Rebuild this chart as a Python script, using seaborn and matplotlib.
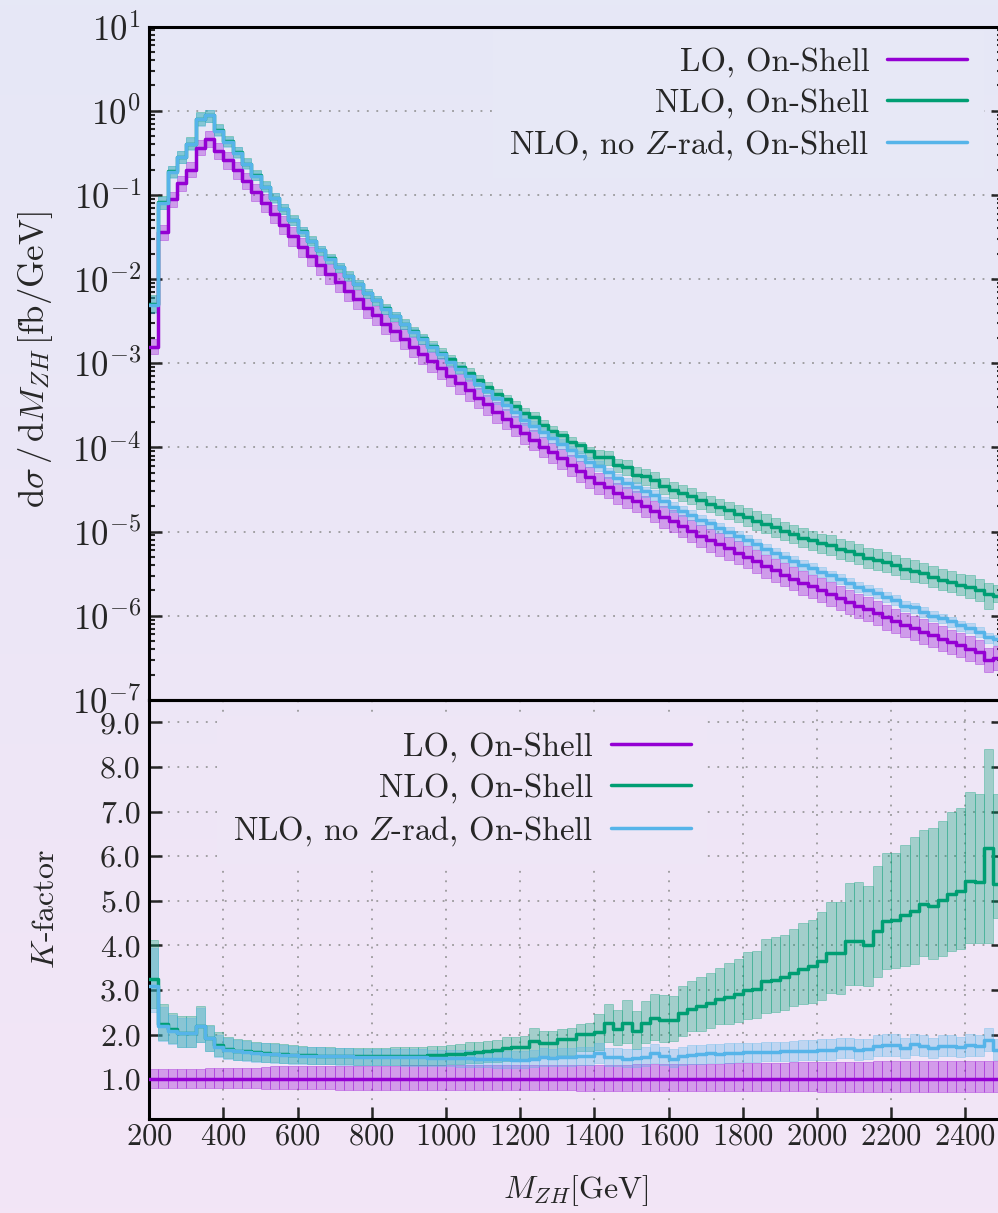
import numpy as np
import matplotlib
matplotlib.use("Agg")
import matplotlib.pyplot as plt
import seaborn as sns
from matplotlib.lines import Line2D
from matplotlib.ticker import (LogFormatterSciNotation, FormatStrFormatter, NullFormatter,
                               FixedLocator)
from matplotlib.colors import to_rgb

# ---------------- data ----------------
mass_edges = np.arange(200, 2501, 25)          # M_ZH bin edges [GeV]

lo_xsec = [
    1.58e-3, 3.63e-2, 8.91e-2, 1.38e-1, 2.00e-1, 3.63e-1, 4.57e-1, 3.35e-1, 2.57e-1, 1.95e-1,
    1.45e-1, 1.07e-1, 7.94e-2, 5.89e-2, 4.37e-2, 3.24e-2, 2.40e-2, 1.86e-2, 1.45e-2, 1.15e-2,
    9.12e-3, 7.24e-3, 5.75e-3, 4.57e-3, 3.72e-3, 2.95e-3, 2.40e-3, 1.95e-3, 1.58e-3, 1.29e-3,
    1.05e-3, 8.71e-4, 7.08e-4, 5.75e-4, 4.79e-4, 3.89e-4, 3.24e-4, 2.63e-4, 2.19e-4, 1.82e-4,
    1.48e-4, 1.23e-4, 1.02e-4, 8.71e-5, 7.41e-5, 6.17e-5, 5.25e-5, 4.47e-5, 3.80e-5, 3.39e-5,
    2.88e-5, 2.57e-5, 2.29e-5, 2.00e-5, 1.74e-5, 1.51e-5, 1.35e-5, 1.17e-5, 1.02e-5, 8.91e-6,
    7.94e-6, 7.08e-6, 6.31e-6, 5.62e-6, 5.01e-6, 4.47e-6, 3.89e-6, 3.47e-6, 3.09e-6, 2.75e-6,
    2.45e-6, 2.24e-6, 2.00e-6, 1.82e-6, 1.62e-6, 1.45e-6, 1.32e-6, 1.20e-6, 1.07e-6, 9.55e-7,
    8.71e-7, 7.76e-7, 7.08e-7, 6.46e-7, 5.89e-7, 5.37e-7, 4.90e-7, 4.47e-7, 4.07e-7, 3.72e-7,
    2.95e-7, 3.16e-7]

# K-factors (ratio to LO central value)
k_nlo = [
    3.24, 2.24, 2.13, 2.03, 2.03, 2.20, 1.92, 1.77, 1.68, 1.64,
    1.62, 1.60, 1.58, 1.57, 1.56, 1.55, 1.55, 1.54, 1.53, 1.53,
    1.52, 1.52, 1.51, 1.51, 1.51, 1.52, 1.52, 1.52, 1.53, 1.53,
    1.54, 1.54, 1.57, 1.57, 1.59, 1.61, 1.63, 1.66, 1.70, 1.71,
    1.72, 1.85, 1.81, 1.81, 1.90, 1.90, 2.02, 2.02, 2.05, 2.26,
    2.13, 2.26, 2.07, 2.26, 2.38, 2.32, 2.33, 2.49, 2.57, 2.64,
    2.70, 2.79, 2.84, 2.91, 3.00, 3.02, 3.21, 3.23, 3.30, 3.38,
    3.47, 3.53, 3.64, 3.83, 3.83, 4.09, 4.10, 4.01, 4.33, 4.54,
    4.57, 4.67, 4.77, 4.93, 4.89, 5.01, 5.16, 5.21, 5.45, 5.42,
    6.19, 5.38]
k_nlo_lo = [
    2.59, 1.88, 1.81, 1.73, 1.73, 1.84, 1.62, 1.53, 1.47, 1.44,
    1.42, 1.40, 1.39, 1.38, 1.37, 1.36, 1.36, 1.35, 1.34, 1.34,
    1.33, 1.33, 1.32, 1.32, 1.32, 1.32, 1.32, 1.32, 1.32, 1.32,
    1.32, 1.32, 1.35, 1.35, 1.36, 1.37, 1.38, 1.39, 1.41, 1.42,
    1.43, 1.50, 1.49, 1.49, 1.54, 1.55, 1.62, 1.63, 1.66, 1.84,
    1.77, 1.82, 1.67, 1.81, 1.88, 1.84, 1.86, 1.96, 2.07, 2.07,
    2.14, 2.24, 2.24, 2.29, 2.35, 2.37, 2.49, 2.51, 2.55, 2.63,
    2.69, 2.70, 2.78, 2.93, 2.92, 3.12, 3.12, 3.08, 3.30, 3.47,
    3.49, 3.53, 3.59, 3.75, 3.69, 3.77, 3.88, 3.91, 4.05, 4.06,
    4.06, 4.61]
k_nlo_hi = [
    4.12, 2.68, 2.48, 2.42, 2.42, 2.64, 2.22, 2.05, 1.94, 1.90,
    1.87, 1.84, 1.82, 1.80, 1.78, 1.76, 1.74, 1.73, 1.72, 1.71,
    1.70, 1.70, 1.69, 1.69, 1.69, 1.70, 1.71, 1.71, 1.72, 1.73,
    1.74, 1.75, 1.77, 1.78, 1.83, 1.84, 1.86, 1.87, 1.94, 1.95,
    1.97, 2.14, 2.08, 2.09, 2.13, 2.15, 2.24, 2.26, 2.46, 2.69,
    2.55, 2.78, 2.53, 2.76, 2.91, 2.89, 2.87, 3.09, 3.20, 3.29,
    3.38, 3.49, 3.60, 3.69, 3.86, 3.88, 4.15, 4.18, 4.24, 4.37,
    4.50, 4.57, 4.74, 4.98, 4.98, 5.39, 5.42, 5.33, 5.78, 6.07,
    6.07, 6.25, 6.42, 6.59, 6.63, 6.78, 6.98, 7.08, 7.43, 7.40,
    8.40, 7.40]
k_noz = [
    3.08, 2.20, 2.09, 2.03, 2.03, 2.20, 1.92, 1.73, 1.66, 1.62,
    1.60, 1.58, 1.57, 1.56, 1.55, 1.54, 1.53, 1.53, 1.52, 1.52,
    1.51, 1.51, 1.50, 1.50, 1.50, 1.50, 1.50, 1.49, 1.49, 1.49,
    1.48, 1.48, 1.48, 1.47, 1.47, 1.46, 1.46, 1.45, 1.45, 1.44,
    1.44, 1.46, 1.49, 1.48, 1.50, 1.50, 1.51, 1.51, 1.58, 1.49,
    1.49, 1.46, 1.47, 1.50, 1.58, 1.51, 1.46, 1.52, 1.55, 1.56,
    1.58, 1.57, 1.58, 1.59, 1.60, 1.60, 1.61, 1.61, 1.62, 1.63,
    1.64, 1.64, 1.66, 1.66, 1.70, 1.70, 1.66, 1.68, 1.75, 1.77,
    1.77, 1.70, 1.78, 1.74, 1.70, 1.74, 1.75, 1.72, 1.77, 1.74,
    1.88, 1.66]
k_noz_lo = [
    2.50, 1.85, 1.78, 1.72, 1.72, 1.83, 1.62, 1.50, 1.45, 1.42,
    1.40, 1.39, 1.38, 1.37, 1.36, 1.35, 1.34, 1.34, 1.33, 1.33,
    1.32, 1.32, 1.31, 1.31, 1.31, 1.31, 1.31, 1.30, 1.30, 1.30,
    1.29, 1.29, 1.29, 1.28, 1.28, 1.27, 1.27, 1.26, 1.26, 1.25,
    1.25, 1.27, 1.29, 1.29, 1.30, 1.30, 1.31, 1.31, 1.37, 1.29,
    1.29, 1.27, 1.28, 1.30, 1.37, 1.31, 1.27, 1.32, 1.35, 1.35,
    1.37, 1.36, 1.37, 1.38, 1.39, 1.39, 1.40, 1.40, 1.41, 1.41,
    1.42, 1.42, 1.44, 1.44, 1.47, 1.47, 1.44, 1.46, 1.52, 1.53,
    1.53, 1.47, 1.54, 1.51, 1.47, 1.51, 1.52, 1.49, 1.53, 1.51,
    1.63, 1.44]
k_noz_hi = [
    3.95, 2.62, 2.44, 2.38, 2.38, 2.60, 2.20, 2.00, 1.92, 1.88,
    1.85, 1.82, 1.80, 1.78, 1.76, 1.75, 1.73, 1.72, 1.71, 1.70,
    1.69, 1.69, 1.68, 1.68, 1.68, 1.68, 1.68, 1.67, 1.67, 1.67,
    1.66, 1.66, 1.66, 1.65, 1.65, 1.64, 1.64, 1.64, 1.64, 1.63,
    1.63, 1.66, 1.69, 1.68, 1.70, 1.70, 1.72, 1.72, 1.80, 1.70,
    1.70, 1.67, 1.68, 1.71, 1.79, 1.72, 1.67, 1.73, 1.76, 1.77,
    1.79, 1.78, 1.80, 1.81, 1.82, 1.82, 1.83, 1.83, 1.84, 1.86,
    1.87, 1.87, 1.89, 1.89, 1.93, 1.93, 1.89, 1.91, 1.99, 2.01,
    2.01, 1.93, 2.02, 1.98, 1.93, 1.98, 1.99, 1.95, 2.01, 1.98,
    2.14, 1.89]
k_lo_lo = [
    0.81, 0.81, 0.81, 0.81, 0.81, 0.81, 0.80, 0.80, 0.80, 0.80,
    0.80, 0.80, 0.79, 0.78, 0.78, 0.77, 0.77, 0.77, 0.77, 0.77,
    0.76, 0.76, 0.76, 0.76, 0.76, 0.76, 0.76, 0.76, 0.75, 0.75,
    0.75, 0.75, 0.75, 0.75, 0.75, 0.75, 0.75, 0.75, 0.75, 0.75,
    0.75, 0.75, 0.75, 0.75, 0.75, 0.75, 0.74, 0.74, 0.74, 0.74,
    0.74, 0.74, 0.74, 0.74, 0.74, 0.74, 0.74, 0.74, 0.74, 0.73,
    0.73, 0.73, 0.73, 0.73, 0.73, 0.73, 0.73, 0.73, 0.73, 0.73,
    0.73, 0.73, 0.72, 0.72, 0.72, 0.72, 0.72, 0.72, 0.72, 0.72,
    0.72, 0.72, 0.72, 0.72, 0.72, 0.72, 0.72, 0.72, 0.72, 0.72,
    0.72, 0.72]
k_lo_hi = [
    1.22, 1.22, 1.22, 1.22, 1.22, 1.22, 1.24, 1.24, 1.24, 1.25,
    1.25, 1.26, 1.28, 1.29, 1.29, 1.29, 1.29, 1.30, 1.30, 1.30,
    1.30, 1.30, 1.30, 1.30, 1.30, 1.30, 1.30, 1.31, 1.31, 1.31,
    1.31, 1.31, 1.31, 1.31, 1.31, 1.31, 1.31, 1.31, 1.31, 1.31,
    1.31, 1.31, 1.31, 1.31, 1.31, 1.32, 1.32, 1.32, 1.32, 1.32,
    1.32, 1.32, 1.33, 1.33, 1.33, 1.33, 1.34, 1.34, 1.34, 1.35,
    1.35, 1.35, 1.36, 1.36, 1.36, 1.37, 1.37, 1.37, 1.37, 1.38,
    1.38, 1.38, 1.39, 1.39, 1.39, 1.39, 1.39, 1.39, 1.40, 1.40,
    1.40, 1.40, 1.40, 1.40, 1.40, 1.40, 1.40, 1.40, 1.40, 1.40,
    1.40, 1.40]

series_labels = ["LO, On-Shell", "NLO, On-Shell", r"NLO, no $Z$-rad, On-Shell"]
series_colors = ["#9400d3", "#009e73", "#56b4e9"]
x_ticks = [200, 400, 600, 800, 1000, 1200, 1400, 1600, 1800, 2000, 2200, 2400]
k_ticks = [1, 2, 3, 4, 5, 6, 7, 8, 9]
xsec_decades = [-7, -6, -5, -4, -3, -2, -1, 0, 1]

# ---------------- style ----------------
sns.set_style("ticks")
plt.rcParams.update({
    "font.family": "serif",
    "font.serif": ["cmr10"],
    "mathtext.fontset": "cm",
    "axes.unicode_minus": False,
    "axes.formatter.use_mathtext": True,
})

W, H = 998, 1213
fig = plt.figure(figsize=(W / 100, H / 100), dpi=100)

# background gradient (lavender -> pale pink)
top_c = np.array(to_rgb("#e6e8f6"))
bot_c = np.array(to_rgb("#f3e5f6"))
grad = np.linspace(0, 1, 256)[:, None, None] * (bot_c - top_c) + top_c
bg = fig.add_axes([0, 0, 1, 1], zorder=-10)
bg.imshow(np.repeat(grad, 2, axis=1), aspect="auto", extent=[0, 1, 0, 1])
bg.axis("off")


def bg_at(ypix):
    f = ypix / H
    return tuple(top_c + f * (bot_c - top_c))


left = 149.2 / W
width = (1002.5 - 149.2) / W
ax_top = fig.add_axes([left, 1 - 700 / H, width, (700 - 26.5) / H])
ax_bot = fig.add_axes([left, 1 - 1119.3 / H, width, (1119.3 - 700) / H])
for ax in (ax_top, ax_bot):
    ax.set_facecolor("none")
    for sp in ax.spines.values():
        sp.set_linewidth(2.2)
        sp.set_color("black")
        sp.set_visible(True)

edges = np.asarray(mass_edges, dtype=float)
lo_arr = np.asarray(lo_xsec)
grid_kw = dict(color="#8c8c8c", linestyle=(0, (1.2, 5.0)), linewidth=1.1)


def draw_band(ax, low, high, color):
    low = np.asarray(low)
    high = np.asarray(high)
    ax.bar(edges[:-1], high - low, bottom=low, width=25, align="edge",
           color=color, alpha=0.32, edgecolor=color, linewidth=0.7, zorder=2)


def draw_step(ax, vals, color):
    vals = np.asarray(vals)
    sns.lineplot(x=edges, y=np.append(vals, vals[-1]), ax=ax, color=color,
                 drawstyle="steps-post", linewidth=2.5, estimator=None,
                 sort=False, legend=False, zorder=3)


legend_kw = dict(loc="upper right", markerfirst=False, frameon=True, fancybox=False,
                 edgecolor="none", framealpha=1, fontsize=23.5, handlelength=2.45,
                 handletextpad=0.55, labelspacing=0.33, borderpad=0.5, borderaxespad=0)

# ---------------- top panel ----------------
ax_top.set_yscale("log")
draw_band(ax_top, lo_arr * np.asarray(k_lo_lo), lo_arr * np.asarray(k_lo_hi), series_colors[0])
draw_band(ax_top, lo_arr * np.asarray(k_nlo_lo), lo_arr * np.asarray(k_nlo_hi), series_colors[1])
draw_band(ax_top, lo_arr * np.asarray(k_noz_lo), lo_arr * np.asarray(k_noz_hi), series_colors[2])
draw_step(ax_top, lo_arr, series_colors[0])
draw_step(ax_top, lo_arr * np.asarray(k_nlo), series_colors[1])
draw_step(ax_top, lo_arr * np.asarray(k_noz), series_colors[2])
ax_top.set_xlim(200, 2500)
ax_top.set_ylim(1e-7, 1e1)
major_y = [10.0 ** d for d in xsec_decades]
minor_y = [m * 10.0 ** d for d in xsec_decades[:-1] for m in range(2, 10)]
ax_top.yaxis.set_major_locator(FixedLocator(major_y))
ax_top.yaxis.set_major_formatter(LogFormatterSciNotation())
ax_top.yaxis.set_minor_locator(FixedLocator(minor_y))
ax_top.yaxis.set_minor_formatter(NullFormatter())
ax_top.xaxis.set_major_locator(FixedLocator(x_ticks))
ax_top.set_axisbelow(True)
ax_top.yaxis.grid(True, which="major", **grid_kw)
ax_top.xaxis.grid(False)
ax_top.tick_params(axis="x", which="both", bottom=False, top=False, labelbottom=False)
ax_top.tick_params(axis="y", which="major", direction="in", length=9, width=1.8,
                   left=True, right=True, labelsize=25, pad=6)
ax_top.tick_params(axis="y", which="minor", direction="in", length=4.5, width=1.5,
                   left=True, right=True)
ax_top.set_xlabel("")
ax_top.set_ylabel(r"$\mathrm{d}\sigma\,/\,\mathrm{d}M_{ZH}\,[\mathrm{fb/GeV}]$", fontsize=25)
ax_top.yaxis.set_label_coords(-0.11, 0.505)

handles = [Line2D([], [], color=c, linewidth=2.5) for c in series_colors]
ax_top.legend(handles, series_labels, bbox_to_anchor=(0.978, 0.994),
              facecolor=bg_at(100), **legend_kw)

# ---------------- bottom panel (K-factor) ----------------
draw_band(ax_bot, k_lo_lo, k_lo_hi, series_colors[0])
draw_band(ax_bot, k_nlo_lo, k_nlo_hi, series_colors[1])
draw_band(ax_bot, k_noz_lo, k_noz_hi, series_colors[2])
draw_step(ax_bot, lo_arr / lo_arr, series_colors[0])
draw_step(ax_bot, k_nlo, series_colors[1])
draw_step(ax_bot, k_noz, series_colors[2])
ax_bot.set_xlim(200, 2500)
ax_bot.set_ylim(0.1, 9.5)
ax_bot.xaxis.set_major_locator(FixedLocator(x_ticks))
ax_bot.yaxis.set_major_locator(FixedLocator(k_ticks))
ax_bot.yaxis.set_major_formatter(FormatStrFormatter("%.1f"))
ax_bot.set_axisbelow(True)
ax_bot.grid(True, which="major", **grid_kw)
ax_bot.tick_params(axis="both", which="major", direction="in", length=9, width=1.8,
                   left=True, right=True, bottom=True, top=False)
ax_bot.tick_params(axis="y", pad=6, labelsize=23)
ax_bot.tick_params(axis="x", pad=3, labelsize=22)
ax_bot.set_xlabel(r"$M_{ZH}[\mathrm{GeV}]$", fontsize=23)
ax_bot.xaxis.set_label_coords(0.5, -0.128)
ax_bot.set_ylabel(r"$K$-factor", fontsize=23)
ax_bot.yaxis.set_label_coords(-0.104, 0.5)

ax_bot.legend(handles, series_labels, bbox_to_anchor=(0.654, 0.962),
              facecolor=bg_at(780), **legend_kw)

fig.savefig("out.png", dpi=100)
